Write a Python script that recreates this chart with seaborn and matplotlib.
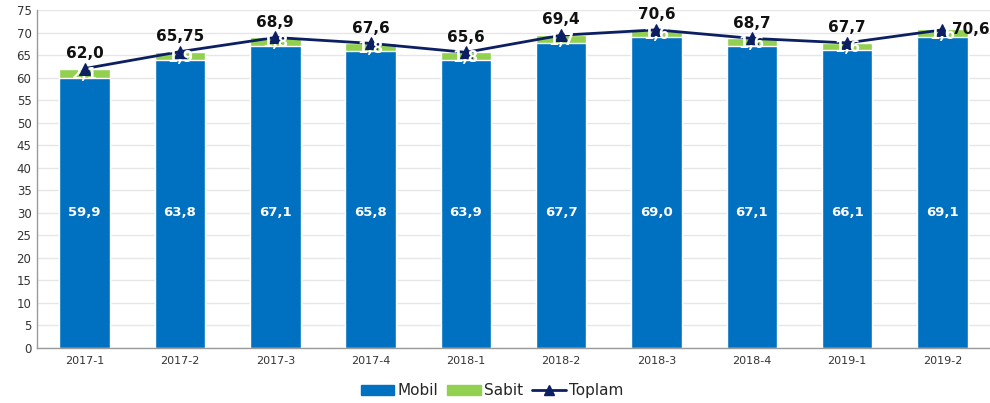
import matplotlib
matplotlib.use('Agg')
import matplotlib.pyplot as plt
import seaborn as sns
import numpy as np
from matplotlib.lines import Line2D
from matplotlib.patches import Patch

periods = ['2017-1', '2017-2', '2017-3', '2017-4', '2018-1',
           '2018-2', '2018-3', '2018-4', '2019-1', '2019-2']
mobil = [59.9, 63.8, 67.1, 65.8, 63.9, 67.7, 69.0, 67.1, 66.1, 69.1]
sabit = [2.1, 1.9, 1.8, 1.8, 1.8, 1.7, 1.6, 1.6, 1.6, 1.6]
toplam = [62.0, 65.75, 68.9, 67.6, 65.6, 69.4, 70.6, 68.7, 67.7, 70.6]
toplam_labels = ['62,0', '65,75', '68,9', '67,6', '65,6', '69,4', '70,6', '68,7', '67,7', '70,6']

c_mobil = '#0070C0'
c_sabit = '#92D050'
c_toplam = '#0D1F63'

sns.set_theme(style='white')
plt.rcParams['font.family'] = ['DejaVu Sans']

fig = plt.figure(figsize=(9.9, 4.03), dpi=100)
ax = fig.add_axes([0.0374, 0.1365, 0.9626, 0.8387])

# green stack drawn as full height, blue over it
stack = [m + s for m, s in zip(mobil, sabit)]
sns.barplot(x=periods, y=stack, color=c_sabit, width=0.53, ax=ax, saturation=1)
sns.barplot(x=periods, y=mobil, color=c_mobil, width=0.53, ax=ax, saturation=1)

x = np.arange(len(periods))
sns.lineplot(x=x, y=toplam, color=c_toplam, marker='^', markersize=8,
             markeredgecolor=c_toplam, linewidth=2, ax=ax)

for i in x:
    ax.text(i, 30, f'{mobil[i]:.1f}'.replace('.', ','), ha='center', va='center',
            color='white', fontsize=9.5, fontweight='bold', zorder=6)
    ax.text(i, mobil[i] + sabit[i] / 2 - 0.3, f'{sabit[i]:.1f}'.replace('.', ','),
            ha='center', va='center', color='white', fontsize=10.5, fontweight='bold', zorder=6)
    if i == len(periods) - 1:
        ax.text(i + 0.1, toplam[i] + 0.1, toplam_labels[i], ha='left', va='center',
                color='#111111', fontsize=11, fontweight='bold', zorder=6)
    else:
        ax.text(i, toplam[i] + 3.4, toplam_labels[i], ha='center', va='center',
                color='#111111', fontsize=11, fontweight='bold', zorder=6)

ax.set_ylim(0, 75)
ax.set_xlim(-0.5, 9.5)
ax.set_yticks(range(0, 80, 5))
ax.yaxis.grid(True, color='#E6E6E6', linewidth=1)
ax.set_axisbelow(True)
ax.tick_params(axis='y', labelsize=8.5, colors='#333333', length=0, pad=4)
ax.tick_params(axis='x', labelsize=8, colors='#333333', length=0, pad=6)
ax.set_xticks(np.arange(-0.5, 10, 1), minor=True)
ax.tick_params(axis='x', which='minor', length=4, color='#888888', direction='out')

for side in ['top', 'right']:
    ax.spines[side].set_visible(False)
for side in ['left', 'bottom']:
    ax.spines[side].set_color('#9A9A9A')
    ax.spines[side].set_linewidth(1)

handles = [Patch(color=c_mobil, label='Mobil'),
           Patch(color=c_sabit, label='Sabit'),
           Line2D([0], [0], color=c_toplam, marker='^', linewidth=2, markersize=7, label='Toplam')]
fig.legend(handles=handles, loc='center', bbox_to_anchor=(0.497, 0.03), ncol=3, frameon=False,
           fontsize=11, handlelength=2.2, handleheight=0.6, columnspacing=0.6, handletextpad=0.2)

fig.savefig('out.png', dpi=100)
